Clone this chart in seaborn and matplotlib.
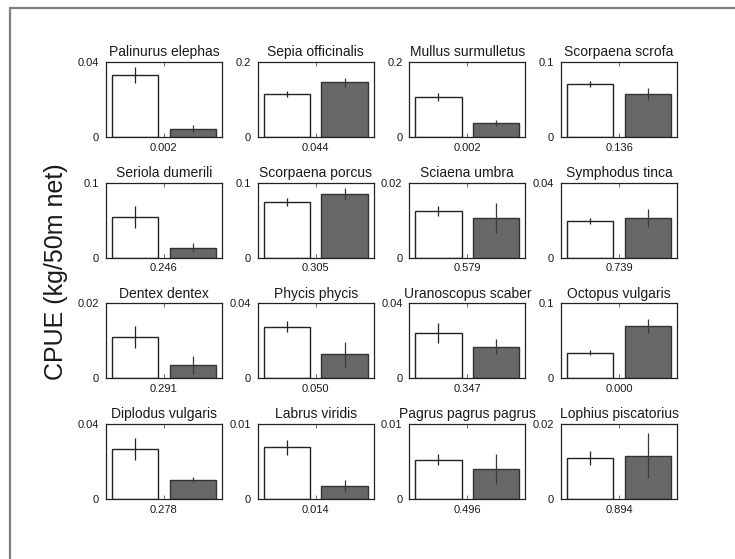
import numpy as np
import pandas as pd
import matplotlib
matplotlib.use("Agg")
import matplotlib.pyplot as plt
from matplotlib.lines import Line2D
import seaborn as sns

# Species panels, in reading order
species = [
    "Palinurus elephas", "Sepia officinalis", "Mullus surmulletus", "Scorpaena scrofa",
    "Seriola dumerili", "Scorpaena porcus", "Sciaena umbra", "Symphodus tinca",
    "Dentex dentex", "Phycis phycis", "Uranoscopus scaber", "Octopus vulgaris",
    "Diplodus vulgaris", "Labrus viridis", "Pagrus pagrus pagrus", "Lophius piscatorius",
]
# Mean CPUE and standard error for the two groups
mean_a = [0.033, 0.115, 0.107, 0.070, 0.054, 0.0745, 0.0124, 0.0196,
          0.0111, 0.0275, 0.0243, 0.0341, 0.0268, 0.0069, 0.00524, 0.0109]
err_a = [0.0044, 0.008, 0.010, 0.004, 0.015, 0.005, 0.0014, 0.0018,
         0.0029, 0.003, 0.0053, 0.0035, 0.006, 0.001, 0.0007, 0.0019]
mean_b = [0.0045, 0.146, 0.036, 0.057, 0.013, 0.0845, 0.0106, 0.0212,
          0.00355, 0.0128, 0.0169, 0.0697, 0.0103, 0.00177, 0.00404, 0.0115]
err_b = [0.002, 0.012, 0.008, 0.008, 0.006, 0.008, 0.004, 0.005,
         0.0023, 0.0065, 0.004, 0.009, 0.0012, 0.0008, 0.002, 0.006]
# Upper y limit of each panel and the p-value shown under it
y_max = [0.04, 0.2, 0.2, 0.1, 0.1, 0.1, 0.02, 0.04,
         0.02, 0.04, 0.04, 0.1, 0.04, 0.01, 0.01, 0.02]
y_max_labels = ["0.04", "0.2", "0.2", "0.1", "0.1", "0.1", "0.02", "0.04",
                "0.02", "0.04", "0.04", "0.1", "0.04", "0.01", "0.01", "0.02"]
p_values = ["0.002", "0.044", "0.002", "0.136", "0.246", "0.305", "0.579", "0.739",
            "0.291", "0.050", "0.347", "0.000", "0.278", "0.014", "0.496", "0.894"]
groups = ["group 1", "group 2"]

rows = []
for i, sp in enumerate(species):
    rows.append({"species": sp, "group": groups[0], "cpue": mean_a[i], "se": err_a[i]})
    rows.append({"species": sp, "group": groups[1], "cpue": mean_b[i], "se": err_b[i]})
df = pd.DataFrame(rows)

sns.set_theme(style="white")
plt.rcParams["font.family"] = ["Liberation Sans", "DejaVu Sans"]

fig, axes = plt.subplots(4, 4, figsize=(7.35, 5.59), dpi=100)
fig.subplots_adjust(left=106 / 735, right=677 / 735, top=1 - 62 / 559,
                    bottom=1 - 499 / 559, wspace=0.31, hspace=0.61)

bar_colors = {"group 1": "white", "group 2": "#686868"}
edge_colors = ["#222222", "#333333"]

for i, ax in enumerate(axes.flat):
    sub = df[df["species"] == species[i]]
    sns.barplot(data=sub, x="group", y="cpue", hue="group", order=groups,
                palette=bar_colors, width=0.8, errorbar=None, legend=False,
                linewidth=1.0, ax=ax)
    for patch, ec in zip(ax.patches, edge_colors):
        patch.set_edgecolor(ec)
    ax.vlines([0, 1], sub["cpue"] - sub["se"], sub["cpue"] + sub["se"],
              colors=["#222222", "#3a3a3a"], linewidth=0.9, zorder=5)
    ax.set_xlim(-0.5, 1.5)
    ax.set_ylim(0, y_max[i])
    ax.set_yticks([0, y_max[i]])
    ax.set_yticklabels(["0", y_max_labels[i]])
    ax.set_xticks([0.5])
    ax.set_xticklabels([p_values[i]])
    ax.set_xlabel("")
    ax.set_ylabel("")
    ax.set_title(species[i], fontsize=10, pad=4, color="#1a1a1a")
    ax.tick_params(axis="both", direction="in", length=3, width=0.6,
                   color="#555555", labelsize=8, labelcolor="#1a1a1a",
                   top=True, right=True, bottom=True, left=True)
    ax.tick_params(axis="y", pad=5)
    ax.tick_params(axis="x", pad=4)
    for s in ax.spines.values():
        s.set_visible(True)
        s.set_color("#222222")
        s.set_linewidth(0.9)

fig.text(56 / 735, 1 - 272 / 559, "CPUE (kg/50m net)", rotation=90,
         ha="center", va="center", fontsize=18, color="#1a1a1a")

# Frame lines along the top and left of the figure
fig.add_artist(Line2D([10 / 735, 1.0], [1 - 8 / 559, 1 - 8 / 559],
                      transform=fig.transFigure, color="#808080", linewidth=1.6))
fig.add_artist(Line2D([10 / 735, 10 / 735], [0.0, 1 - 8 / 559],
                      transform=fig.transFigure, color="#808080", linewidth=1.6))

fig.savefig("out.png", dpi=100, facecolor="white")
